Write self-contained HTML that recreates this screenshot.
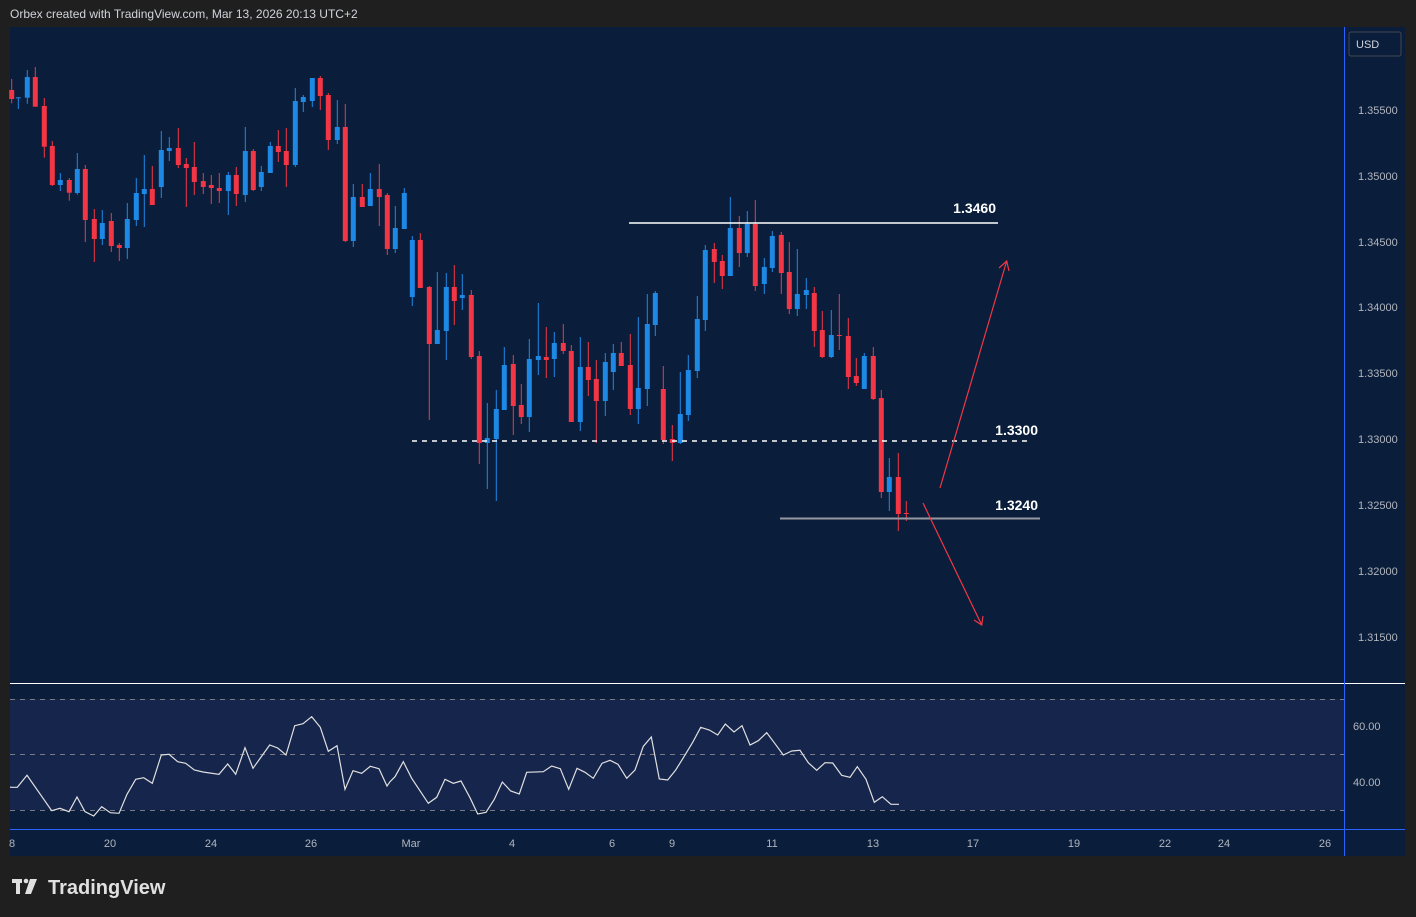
<!DOCTYPE html>
<html><head><meta charset="utf-8"><style>
html,body{margin:0;padding:0;background:#1f1f1f;width:1416px;height:917px;overflow:hidden;font-family:"Liberation Sans",sans-serif}
svg{position:absolute;left:0;top:0}
</style></head><body>
<svg id="s" width="1416" height="917" xmlns="http://www.w3.org/2000/svg">
<rect x="0" y="0" width="1416" height="917" fill="#1f1f1f"/>
<text x="10" y="18" font-size="12" fill="#d1d4dc">Orbex created with TradingView.com, Mar 13, 2026 20:13 UTC+2</text>
<rect x="10" y="27" width="1395" height="829" fill="#0a1e3b"/>
<rect x="10" y="699" width="1334" height="111" fill="#16254b"/>
<line x1="10" y1="699.5" x2="1344" y2="699.5" stroke="#787b86" stroke-dasharray="5,5"/>
<line x1="10" y1="754.5" x2="1344" y2="754.5" stroke="#787b86" stroke-dasharray="5,5"/>
<line x1="10" y1="810.5" x2="1344" y2="810.5" stroke="#787b86" stroke-dasharray="5,5"/>
<line x1="10" y1="683.5" x2="1405" y2="683.5" stroke="#ffffff" stroke-width="1"/>
<line x1="10" y1="829.5" x2="1405" y2="829.5" stroke="#2962ff" stroke-width="1"/>
<line x1="1344.5" y1="27" x2="1344.5" y2="856" stroke="#2962ff" stroke-width="1"/>
<g id="c"></g>
<polyline id="rsi" fill="none" stroke="#e0e0e0" stroke-width="1.2"/>
<line x1="629" y1="223" x2="998" y2="223" stroke="#ffffff" stroke-width="1.5"/>
<line x1="412" y1="441" x2="1032" y2="441" stroke="#ffffff" stroke-width="1.5" stroke-dasharray="5,5"/>
<line x1="780" y1="518.5" x2="1040" y2="518.5" stroke="#9598a1" stroke-width="2"/>
<text x="996" y="213" font-size="14" font-weight="bold" fill="#ffffff" text-anchor="end">1.3460</text>
<text x="1038" y="435" font-size="14" font-weight="bold" fill="#ffffff" text-anchor="end">1.3300</text>
<text x="1038" y="510" font-size="14" font-weight="bold" fill="#ffffff" text-anchor="end">1.3240</text>
<g stroke="#f23645" stroke-width="1.2" fill="none">
<line x1="940" y1="488" x2="1006.7" y2="261"/>
<polyline points="999,268 1006.7,261 1009,271"/>
<line x1="923" y1="503" x2="981.7" y2="625"/>
<polyline points="974,620 981.7,625 983,616"/>
</g>
<rect x="1349" y="32" width="52" height="24" rx="2" fill="none" stroke="#434651"/>
<text x="1356" y="48" font-size="11" fill="#d1d4dc">USD</text>
<g font-size="11" fill="#b2b5be">
<text x="1358" y="114">1.35500</text><text x="1358" y="180">1.35000</text><text x="1358" y="246">1.34500</text>
<text x="1358" y="311">1.34000</text><text x="1358" y="377">1.33500</text><text x="1358" y="443">1.33000</text>
<text x="1358" y="509">1.32500</text><text x="1358" y="575">1.32000</text><text x="1358" y="641">1.31500</text>
<text x="1353" y="730">60.00</text><text x="1353" y="786">40.00</text>
</g>
<g font-size="11" fill="#b2b5be" text-anchor="middle">
<text x="12" y="847">8</text><text x="110" y="847">20</text><text x="211" y="847">24</text><text x="311" y="847">26</text>
<text x="411" y="847">Mar</text><text x="512" y="847">4</text><text x="612" y="847">6</text><text x="672" y="847">9</text>
<text x="772" y="847">11</text><text x="873" y="847">13</text><text x="973" y="847">17</text><text x="1074" y="847">19</text>
<text x="1165" y="847">22</text><text x="1224" y="847">24</text><text x="1325" y="847">26</text>
</g>
<g fill="#e0e0e0">
<rect x="12" y="879" width="10" height="4"/><rect x="16" y="879" width="4" height="15"/>
<circle cx="26" cy="881" r="2.3"/><polygon points="30,879 37,879 31,894 25,894"/>
</g>
<text x="48" y="894" font-size="20" font-weight="bold" fill="#e0e0e0">TradingView</text>
</svg>
<script>
var z4=[[5,'r',90,117,57,130],[25,'b',112,113,112,147],[52,'b',51,113,30,131],[76,'r',51,140,21,140],[103,'r',138,260,114,293],[127,'r',258,375,243,378],[151,'b',360,375,339,393],[178,'r',360,398,354,422],[202,'b',327,399,279,404],[226,'r',327,480,315,546],[253,'r',477,537,447,606],[277,'b',489,537,450,555],[304,'r',483,558,459,576],[328,'r',555,564,549,603],[352,'b',477,564,429,597],[379,'b',399,480,354,498],[403,'b',387,402,285,501],[427,'r',387,435,318,435],[454,'b',270,381,213,414],[478,'b',264,273,231,303],[505,'r',264,315,204,324],[529,'r',312,324,294,441],[553,'r',321,366,246,405],[580,'r',363,381,339,402],[604,'r',375,384,345,432],[628,'r',384,393,339,429],[655,'b',345,393,336,465],[679,'r',345,402,321,438],[706,'b',273,405,201,426],[730,'r',273,390,267,393],[754,'b',336,381,318,393],[781,'b',258,339,246,339],[805,'r',258,276,210,306],[829,'r',273,315,204,381],[856,'b',123,315,84,321],[880,'b',111,126,105,156],[907,'b',54,123,54,141],[931,'r',54,108,48,150],[955,'r',105,240,99,270],[982,'b',201,240,120,252],[1006,'r',201,543,132,546],[1030,'b',411,543,372,561],[1057,'r',411,441,372,441],[1081,'b',387,438,339,438],[1108,'r',387,411,312,498],[1132,'r',405,567,399,585],[1156,'b',504,567,438,579],[1183,'b',399,507,384,507]];
var z5=[[37,'b',150,321,138,348],[61,'r',150,294,129,294],[88,'r',291,462,288,690],[112,'b',420,462,246,462],[139,'b',291,423,249,510],[163,'r',291,333,225,405],[187,'b',315,324,252,360],[214,'r',315,501,300,507],[238,'r',498,759,483,822],[262,'b',744,759,639,897],[289,'b',657,747,600,933],[313,'b',525,660,471,660],[340,'r',522,648,495,735],[364,'r',645,681,582,702],[388,'b',507,681,447,726],[415,'b',498,510,339,555],[439,'r',501,510,411,564],[463,'b',459,507,426,561],[490,'r',459,483,402,492],[514,'r',483,696,465,696],[541,'b',531,696,441,723],[565,'r',531,570,456,618],[589,'r',567,633,510,759],[616,'b',516,633,489,678],[640,'b',489,546,462,600],[664,'r',489,528,456,528],[691,'r',525,657,432,675],[715,'b',594,657,381,702],[742,'b',402,597,312,648],[766,'b',309,405,303,438],[790,'r',597,750,528,762],[817,'r',747,759,705,813],[841,'b',672,759,546,762],[865,'b',540,675,495,693],[892,'b',387,543,318,564]];
var z6=[[136,'b',180,390,165,423],[163,'r',177,216,159,279],[187,'r',213,258,195,297],[211,'b',114,258,21,258],[238,'r',114,189,78,231],[262,'b',102,189,63,201],[286,'r',102,288,30,303],[313,'b',231,282,204,312],[337,'b',138,234,123,246],[364,'r',135,249,126,312],[388,'r',246,357,156,372],[412,'b',312,357,177,378],[439,'b',300,315,264,357],[463,'r',309,423,291,471],[487,'r',420,501,363,504],[514,'b',435,501,360,504],[538,'r',435,438,312,480],[565,'r',438,561,384,597],[589,'r',558,579,504,588],[613,'b',498,597,489,597],[640,'r',498,627,471,630],[664,'r',624,906,600,924],[688,'b',861,906,804,963],[715,'r',861,972,789,1023],[739,'r',969,972,933,993]];
var g=document.getElementById('c'),h='';
function add(arr,ox,oy){arr.forEach(function(c){var x=ox+c[0]/3,col=c[1]=='b'?'#1e88e5':'#f23645';
var t=oy+c[2]/3,b=oy+c[3]/3,wt=oy+c[4]/3,wb=oy+c[5]/3;if(b-t<1)b=t+1;
h+='<line x1="'+x.toFixed(1)+'" x2="'+x.toFixed(1)+'" y1="'+wt.toFixed(1)+'" y2="'+wb.toFixed(1)+'" stroke="'+col+'" stroke-width="1"/>';
h+='<rect x="'+(x-2.5).toFixed(1)+'" y="'+t.toFixed(1)+'" width="5" height="'+(b-t).toFixed(1)+'" fill="'+col+'"/>';});}
add(z4,10,60);add(z5,400,190);add(z6,660,190);g.innerHTML=h;
var r3=[[33,322],[52,322],[81,286],[155,392],[180,385],[207,395],[231,351],[255,395],[281,408],[305,380],[331,398],[357,400],[381,343],[407,298],[431,293],[457,310],[484,225],[507,223],[533,245],[557,250],[583,270],[609,276],[657,283],[683,252],[707,283],[735,203],[759,265],[809,195],[833,204],[858,225],[884,137],[909,131],[935,110],[961,142],[985,214],[1011,197],[1035,328],[1059,272],[1085,280],[1111,259],[1137,266],[1161,318]];
var r7=[[0,245],[15,230],[40,185],[65,235],[115,310],[140,292],[165,238],[190,250],[213,243],[240,293],[263,342],[288,337],[313,298],[337,246],[362,273],[388,282],[410,217],[460,215],[485,198],[511,206],[536,268],[561,205],[585,217],[610,235],[636,190],[660,181],[684,193],[710,235],[735,210],[760,139],[784,111],[808,237],[833,240],[857,210],[882,170],[908,127],[932,82],[958,90],[983,105],[1006,72],[1032,96],[1056,77],[1080,135],[1105,122],[1130,98],[1155,131],[1180,165],[1205,153],[1230,151],[1255,188],[1280,211],[1305,188],[1328,189],[1355,226],[1380,232],[1402,200],[1428,238],[1453,307],[1477,290],[1503,313],[1527,313]];
var p=[[10,787]];r3.forEach(function(a){p.push([a[0]/3,680+a[1]/3]);});r7.forEach(function(a){p.push([390+a[0]/3,700+a[1]/3]);});
document.getElementById('rsi').setAttribute('points',p.map(function(a){return a[0].toFixed(1)+','+a[1].toFixed(1)}).join(' '));
</script>
</body></html>
